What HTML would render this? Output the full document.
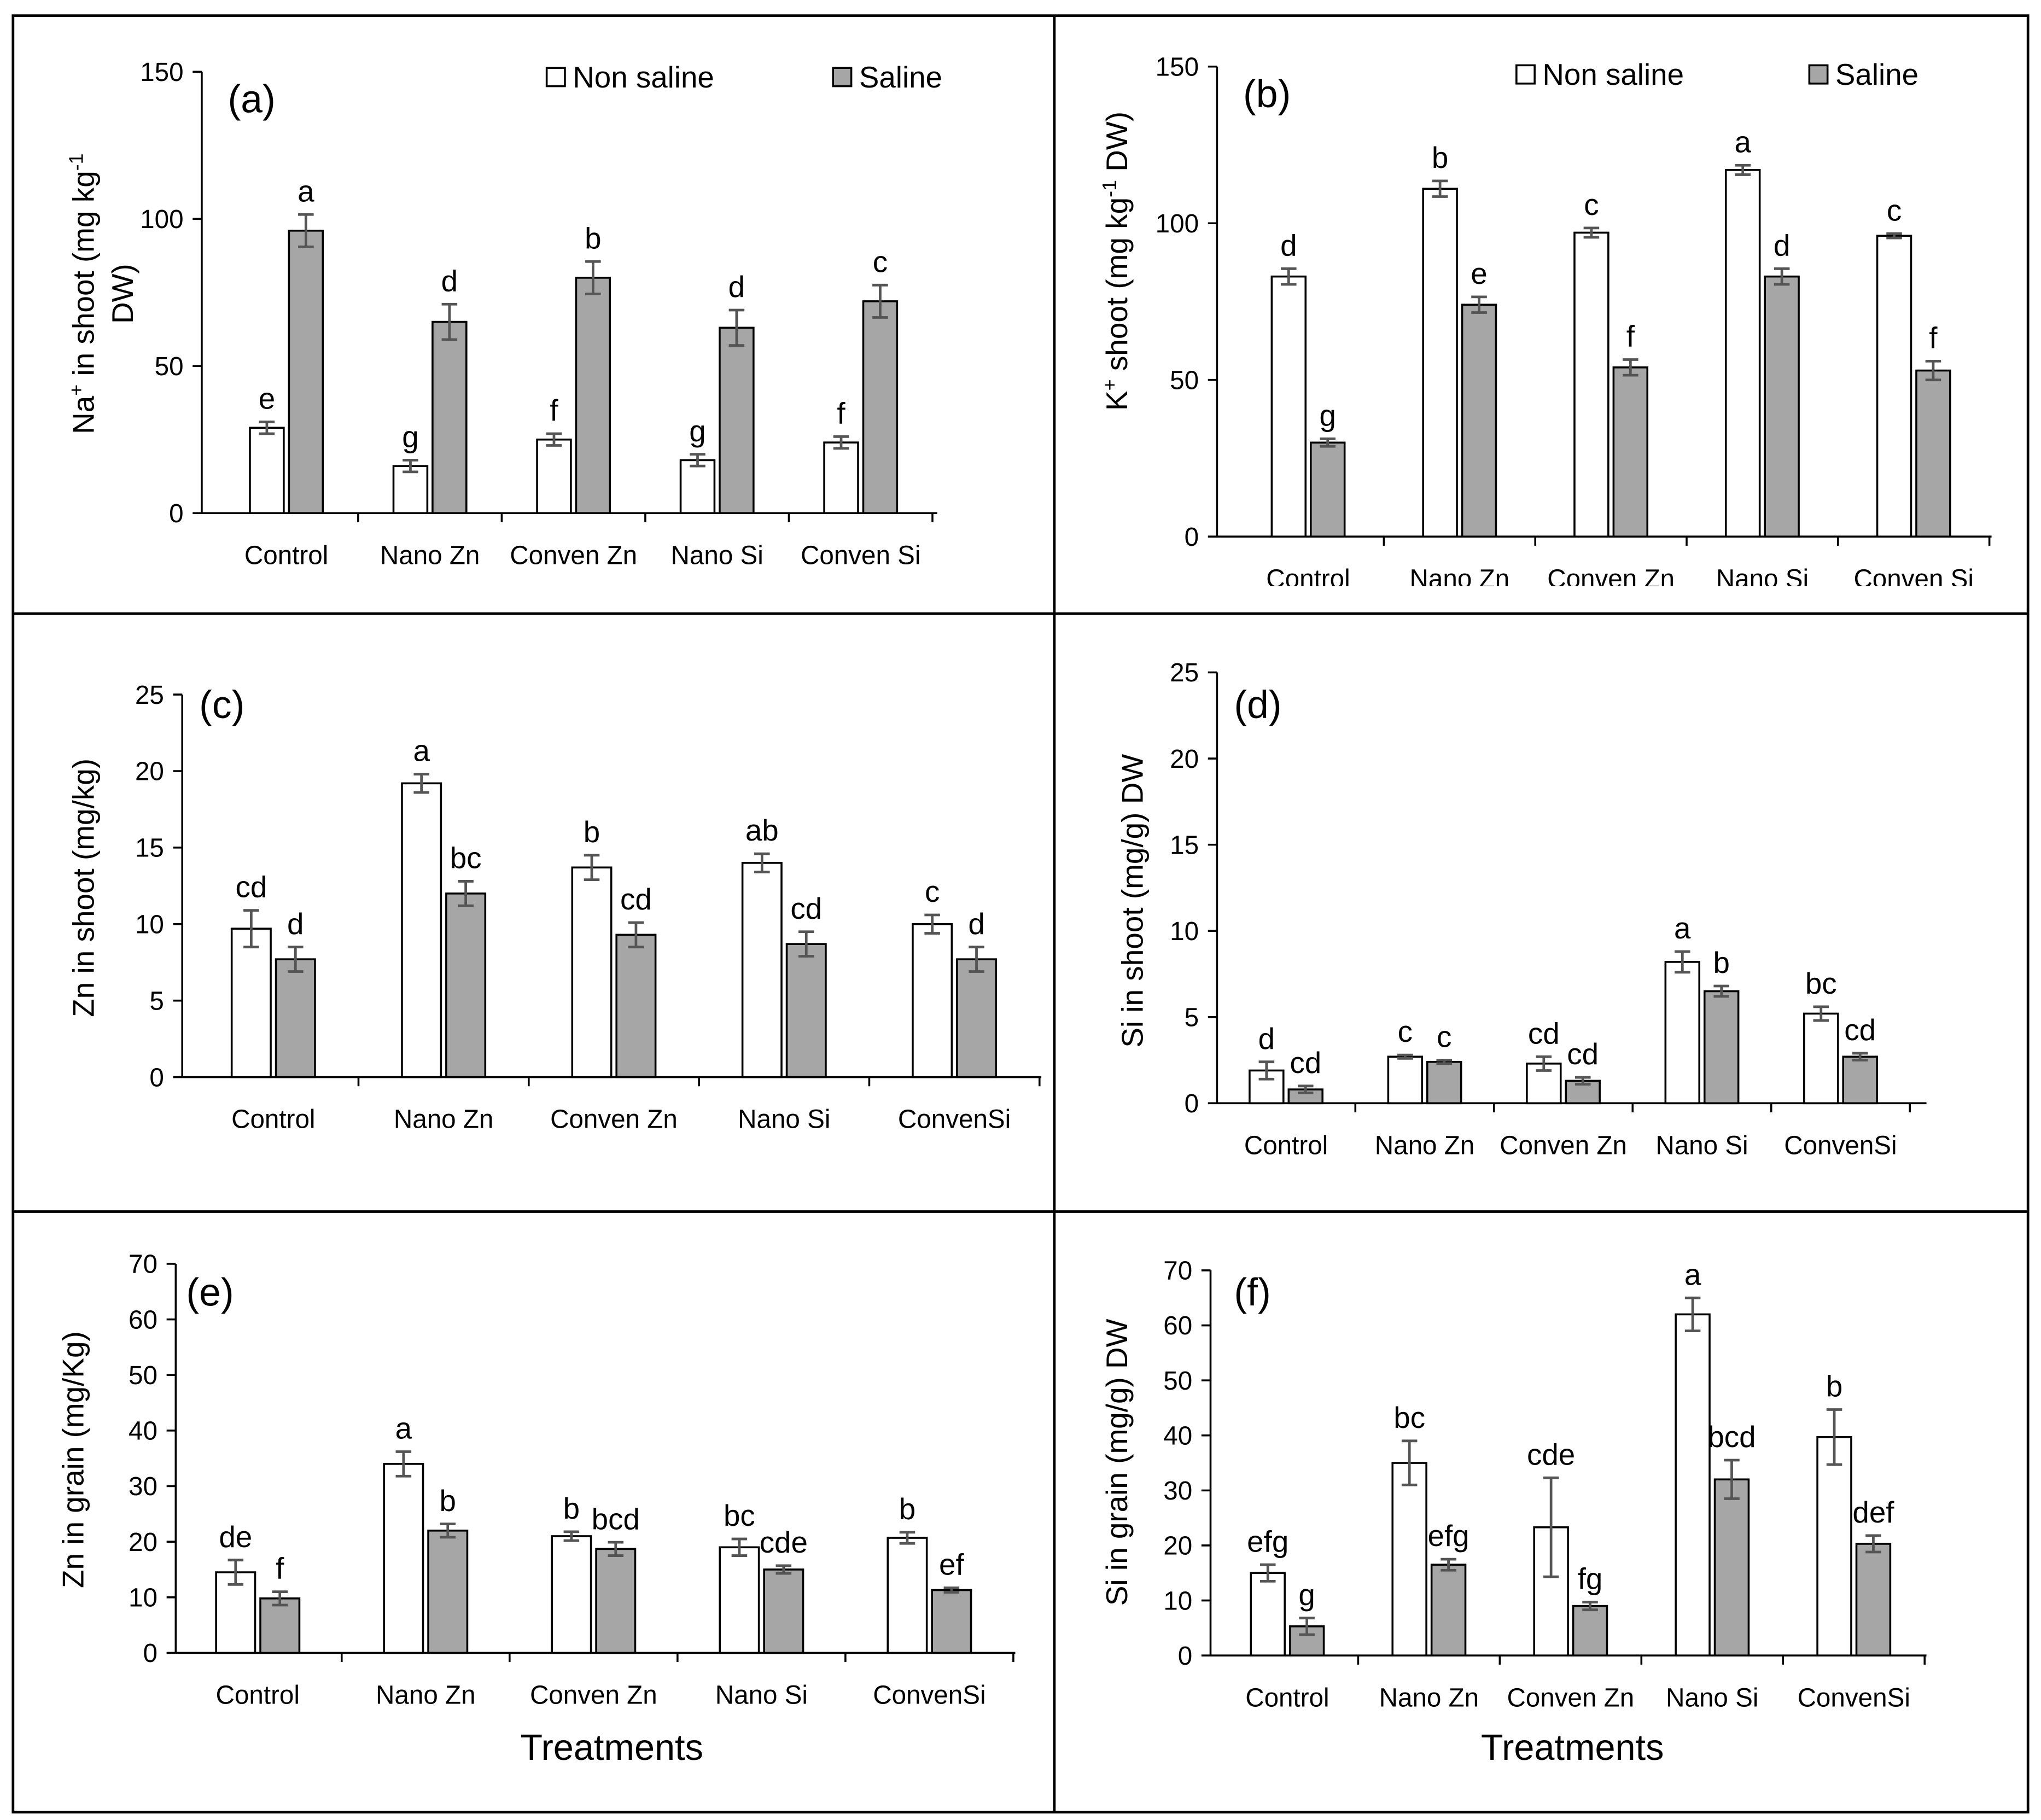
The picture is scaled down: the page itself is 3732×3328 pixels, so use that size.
<!DOCTYPE html>
<html><head><meta charset="utf-8">
<style>
html,body{margin:0;padding:0;background:#fff;}
svg{display:block;font-family:"Liberation Sans","DejaVu Sans",sans-serif;}
</style></head>
<body>
<svg id="fig" width="3732" height="3328" viewBox="0 0 1568 1394" preserveAspectRatio="none" xmlns="http://www.w3.org/2000/svg">
<rect x="0" y="0" width="1568" height="1394" fill="#fff"/>
<rect x="10" y="12" width="1548" height="1376" fill="none" stroke="#000" stroke-width="2"/>
<line x1="810" y1="12" x2="810" y2="1388" stroke="#000" stroke-width="2"/>
<line x1="10" y1="470" x2="1558" y2="470" stroke="#000" stroke-width="2"/>
<line x1="10" y1="928" x2="1558" y2="928" stroke="#000" stroke-width="2"/>
<g id="root"></g>
</svg>
<script>
// Panel (a) Na+ in shoot
const catsA=["Control","Nano Zn","Conven Zn","Nano Si","Conven Si"];
const nsA=[29,16,25,18,24]; const nsErrA=[2,2,2,2,2];
const sA=[96,65,80,63,72]; const sErrA=[5.5,6,5.5,6,5.5];
const nsLabA=["e","g","f","g","f"]; const sLabA=["a","d","b","d","c"];
const ticksA=[0,50,100,150];
// Panel (b) K+ shoot
const catsB=["Control","Nano Zn","Conven Zn","Nano Si","Conven Si"];
const nsB=[83,111,97,117,96]; const nsErrB=[2.5,2.5,1.5,1.5,0.7];
const sB=[30,74,54,83,53]; const sErrB=[1.2,2.5,2.5,2.5,3];
const nsLabB=["d","b","c","a","c"]; const sLabB=["g","e","f","d","f"];
const ticksB=[0,50,100,150];
// Panel (c) Zn in shoot
const catsC=["Control","Nano Zn","Conven Zn","Nano Si","ConvenSi"];
const nsC=[9.7,19.2,13.7,14,10]; const nsErrC=[1.2,0.6,0.8,0.6,0.6];
const sC=[7.7,12,9.3,8.7,7.7]; const sErrC=[0.8,0.8,0.8,0.8,0.8];
const nsLabC=["cd","a","b","ab","c"]; const sLabC=["d","bc","cd","cd","d"];
const ticksC=[0,5,10,15,20,25];
// Panel (d) Si in shoot
const catsD=["Control","Nano Zn","Conven Zn","Nano Si","ConvenSi"];
const nsD=[1.9,2.7,2.3,8.2,5.2]; const nsErrD=[0.5,0.1,0.4,0.6,0.4];
const sD=[0.8,2.4,1.3,6.5,2.7]; const sErrD=[0.2,0.1,0.2,0.3,0.2];
const nsLabD=["d","c","cd","a","bc"]; const sLabD=["cd","c","cd","b","cd"];
const ticksD=[0,5,10,15,20,25];
// Panel (e) Zn in grain
const catsE=["Control","Nano Zn","Conven Zn","Nano Si","ConvenSi"];
const nsE=[14.5,34,21,19,20.7]; const nsErrE=[2.2,2.2,0.8,1.5,1];
const sE=[9.8,22,18.7,15,11.3]; const sErrE=[1.2,1.2,1.2,0.7,0.4];
const nsLabE=["de","a","b","bc","b"]; const sLabE=["f","b","bcd","cde","ef"];
const ticksE=[0,10,20,30,40,50,60,70];
// Panel (f) Si in grain
const catsF=["Control","Nano Zn","Conven Zn","Nano Si","ConvenSi"];
const nsF=[15,35,23.3,62,39.7]; const nsErrF=[1.5,4,9,3,5];
const sF=[5.3,16.5,9,32,20.3]; const sErrF=[1.5,1,0.7,3.5,1.5];
const nsLabF=["efg","bc","cde","a","b"]; const sLabF=["g","efg","fg","bcd","def"];
const ticksF=[0,10,20,30,40,50,60,70];

const NS="http://www.w3.org/2000/svg";
const root=document.getElementById('root');
function mk(tag,attrs,parent,text){const e=document.createElementNS(NS,tag);for(const k in attrs)e.setAttribute(k,attrs[k]);if(text!==undefined)e.textContent=text;parent.appendChild(e);return e;}

function panel(p){
  const g=mk('g',{},root);
  
  
  if(p.clip){const cp=mk('clipPath',{id:'clip'+p.id},g);mk('rect',{x:p.clip[0],y:p.clip[1],width:p.clip[2],height:p.clip[3]},cp);g.setAttribute('clip-path','url(#clip'+p.id+')');}
  const ymax=p.ticks[p.ticks.length-1];
  const Y=v=>p.y0-(v/ymax)*(p.y0-p.yTop);
  const ya=mk('line',{x1:p.ax,y1:p.y0,x2:p.ax,y2:p.yTop,stroke:'#000','stroke-width':1.5},g);
  
  const xa=mk('line',{x1:p.ax,y1:p.y0,x2:p.xEnd,y2:p.y0,stroke:'#000','stroke-width':1.5},g);
  
  p.ticks.forEach(t=>{
    const y=Y(t);
    mk('line',{x1:p.ax-7,y1:y,x2:p.ax,y2:y,stroke:'#000','stroke-width':1.5},g);
    const tl=mk('text',{x:p.ax-14,y:y+7,'text-anchor':'end','font-size':20},g,String(t));
    
  });
  const n=p.cats.length;
  for(let i=0;i<n;i++){
    const c=p.x0+p.step*i;
    const bnd=c+p.step/2;
    mk('line',{x1:bnd,y1:p.y0,x2:bnd,y2:p.y0+7,stroke:'#000','stroke-width':1.5},g);
    const cl=mk('text',{x:c,y:p.y0+39,'text-anchor':'middle','font-size':20},g,p.cats[i]);
    
    const series=[[p.ns,p.nsErr,p.nsLab,'#fff',c-p.bw-2],[p.s,p.sErr,p.sLab,'#a6a6a6',c+2]];
    series.forEach((sr,si)=>{
      const v=sr[0][i], e=sr[1][i], x=sr[4];
      const b=mk('rect',{x:x,y:Y(v),width:p.bw,height:p.y0-Y(v),fill:sr[3],stroke:'#000','stroke-width':1.5},g);
      
      
      const xc=x+p.bw/2, yt=Y(v+e), yb=Y(v-e);
      mk('line',{x1:xc,y1:yt,x2:xc,y2:yb,stroke:'#555','stroke-width':2},g);
      mk('line',{x1:xc-6,y1:yt,x2:xc+6,y2:yt,stroke:'#555','stroke-width':2},g);
      mk('line',{x1:xc-6,y1:yb,x2:xc+6,y2:yb,stroke:'#555','stroke-width':2},g);
      const sl=mk('text',{x:xc,y:yt-10,'text-anchor':'middle','font-size':23},g,sr[2][i]);
      
    });
  }
  const pl=mk('text',{x:p.lab[0],y:p.lab[1],'font-size':30},g,'('+p.id+')');
  
  const tg=mk('text',{transform:`translate(${p.tx},${p.ty}) rotate(-90)`,'text-anchor':'middle','font-size':23},g);
  
  tg.innerHTML=p.title;
  if(p.legend){
    const L=p.legend;
    const l1=mk('rect',{x:L[0],y:L[1],width:14,height:14,fill:'#fff',stroke:'#000','stroke-width':1.5},g);
    
    const t1=mk('text',{x:L[0]+20,y:L[1]+15,'font-size':23},g,'Non saline');
    
    const l2=mk('rect',{x:L[2],y:L[1],width:14,height:14,fill:'#a6a6a6',stroke:'#000','stroke-width':1.5},g);
    
    const t2=mk('text',{x:L[2]+20,y:L[1]+15,'font-size':23},g,'Saline');
    
  }
  if(p.xt){const xt=mk('text',{x:p.xt[0],y:p.xt[1],'text-anchor':'middle','font-size':28},g,'Treatments');
    }
}
panel({id:'a',cats:catsA,ns:nsA,nsErr:nsErrA,s:sA,sErr:sErrA,nsLab:nsLabA,sLab:sLabA,ticks:ticksA,
  ax:155,xEnd:720,y0:393,yTop:55,bw:26,x0:220,step:110.3,lab:[175,86],tx:72,ty:225,
  title:'<tspan x="0" dy="0">Na<tspan baseline-shift="super" font-size="15">+</tspan> in shoot (mg kg<tspan baseline-shift="super" font-size="15">-1</tspan></tspan><tspan x="0" dy="30">DW)</tspan>',
  legend:[420,52,640]});
panel({id:'b',cats:catsB,ns:nsB,nsErr:nsErrB,s:sB,sErr:sErrB,nsLab:nsLabB,sLab:sLabB,ticks:ticksB,
  ax:935,xEnd:1530,y0:411,yTop:51,bw:26,x0:1005,step:116.3,lab:[955,82],tx:866,ty:200,clip:[812,14,745,435],
  title:'K<tspan baseline-shift="super" font-size="15">+</tspan> shoot (mg kg<tspan baseline-shift="super" font-size="15">-1</tspan> DW)',
  legend:[1165,50,1390]});
panel({id:'c',cats:catsC,ns:nsC,nsErr:nsErrC,s:sC,sErr:sErrC,nsLab:nsLabC,sLab:sLabC,ticks:ticksC,
  ax:140,xEnd:800,y0:825,yTop:532,bw:30,x0:210,step:130.8,lab:[153,550],tx:72,ty:680,
  title:'Zn in shoot (mg/kg)'});
panel({id:'d',cats:catsD,ns:nsD,nsErr:nsErrD,s:sD,sErr:sErrD,nsLab:nsLabD,sLab:sLabD,ticks:ticksD,
  ax:935,xEnd:1480,y0:845,yTop:515,bw:26,x0:988,step:106.5,lab:[948,550],tx:878,ty:690,
  title:'Si in shoot (mg/g) DW'});
panel({id:'e',cats:catsE,ns:nsE,nsErr:nsErrE,s:sE,sErr:sErrE,nsLab:nsLabE,sLab:sLabE,ticks:ticksE,
  ax:135,xEnd:780,y0:1266,yTop:968,bw:30,x0:198,step:129,lab:[143,1000],tx:64,ty:1118,
  title:'Zn in grain (mg/Kg)',xt:[470,1348]});
panel({id:'f',cats:catsF,ns:nsF,nsErr:nsErrF,s:sF,sErr:sErrF,nsLab:nsLabF,sLab:sLabF,ticks:ticksF,
  ax:930,xEnd:1480,y0:1268,yTop:973,bw:26,x0:989,step:108.8,lab:[948,1000],tx:866,ty:1120,
  title:'Si in grain (mg/g) DW',xt:[1208,1348]});
</script>
</body></html>
